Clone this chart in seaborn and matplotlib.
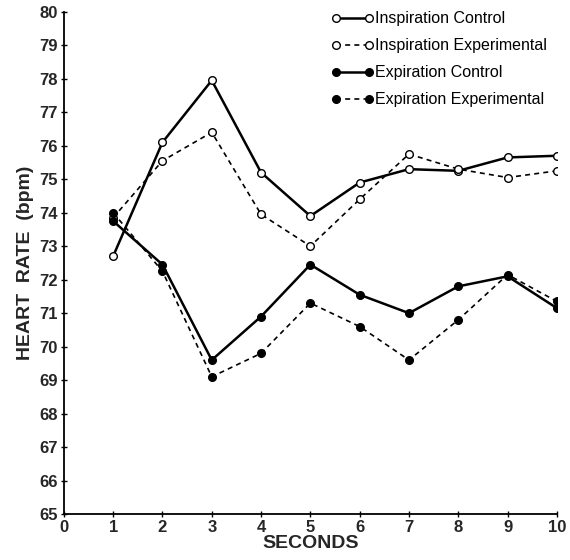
import matplotlib
matplotlib.use("Agg")
import matplotlib.pyplot as plt
import seaborn as sns
import pandas as pd

seconds = [1, 2, 3, 4, 5, 6, 7, 8, 9, 10]
insp_control = [72.7, 76.1, 77.95, 75.2, 73.9, 74.9, 75.3, 75.25, 75.65, 75.7]
insp_experimental = [73.85, 75.55, 76.4, 73.95, 73.0, 74.4, 75.75, 75.3, 75.05, 75.25]
exp_control = [73.75, 72.45, 69.6, 70.9, 72.45, 71.55, 71.0, 71.8, 72.1, 71.15]
exp_experimental = [74.0, 72.25, 69.1, 69.8, 71.3, 70.6, 69.6, 70.8, 72.15, 71.35]
series_names = ["Inspiration Control", "Inspiration Experimental",
                "Expiration Control", "Expiration Experimental"]
x_ticks = list(range(0, 11))
y_ticks = list(range(65, 81))

sns.set_theme(style="white")
plt.rcParams['font.family'] = ['Liberation Sans', 'DejaVu Sans']

fig = plt.figure(figsize=(5.7, 5.6), dpi=100)
ax = fig.add_axes([0.112, 0.082, 0.865, 0.897])

styles = [
    dict(ls="-", lw=1.8, mfc="white"),
    dict(ls=(0, (3, 2.5)), lw=1.2, mfc="white"),
    dict(ls="-", lw=1.8, mfc="black"),
    dict(ls=(0, (3, 2.5)), lw=1.2, mfc="black"),
]
for name, vals, st in zip(series_names,
                          [insp_control, insp_experimental, exp_control, exp_experimental],
                          styles):
    df = pd.DataFrame({"x": seconds, "y": vals})
    sns.lineplot(data=df, x="x", y="y", ax=ax, color="black", linestyle=st["ls"],
                 linewidth=st["lw"], marker="o", markersize=5.5,
                 markerfacecolor=st["mfc"], markeredgecolor="black",
                 markeredgewidth=1.0, label=name)

ax.set_xlim(0, 10)
ax.set_ylim(65, 80)
ax.set_xticks(x_ticks)
ax.set_yticks(y_ticks)
ax.set_xticklabels([str(t) for t in x_ticks], fontsize=12, fontweight="bold")
ax.set_yticklabels([str(t) for t in y_ticks], fontsize=12, fontweight="bold")
ax.tick_params(axis="both", direction="inout", length=5, width=1, color="black",
               pad=2, bottom=True, left=True)
for s in ["top", "right"]:
    ax.spines[s].set_visible(False)
for s in ["left", "bottom"]:
    ax.spines[s].set_color("black")
    ax.spines[s].set_linewidth(1.3)

ax.set_xlabel("SECONDS", fontsize=14, fontweight="bold", labelpad=0)
ax.set_ylabel("HEART  RATE  (bpm)", fontsize=14, fontweight="bold", labelpad=4)

leg = ax.legend(loc="upper right", bbox_to_anchor=(1.0, 1.02), frameon=False,
                numpoints=2, handlelength=2.7, handletextpad=0.1, labelspacing=0.75,
                fontsize=11.5, borderaxespad=0.2)
for t in leg.get_texts():
    t.set_color("black")

fig.savefig("out.png", dpi=100)
